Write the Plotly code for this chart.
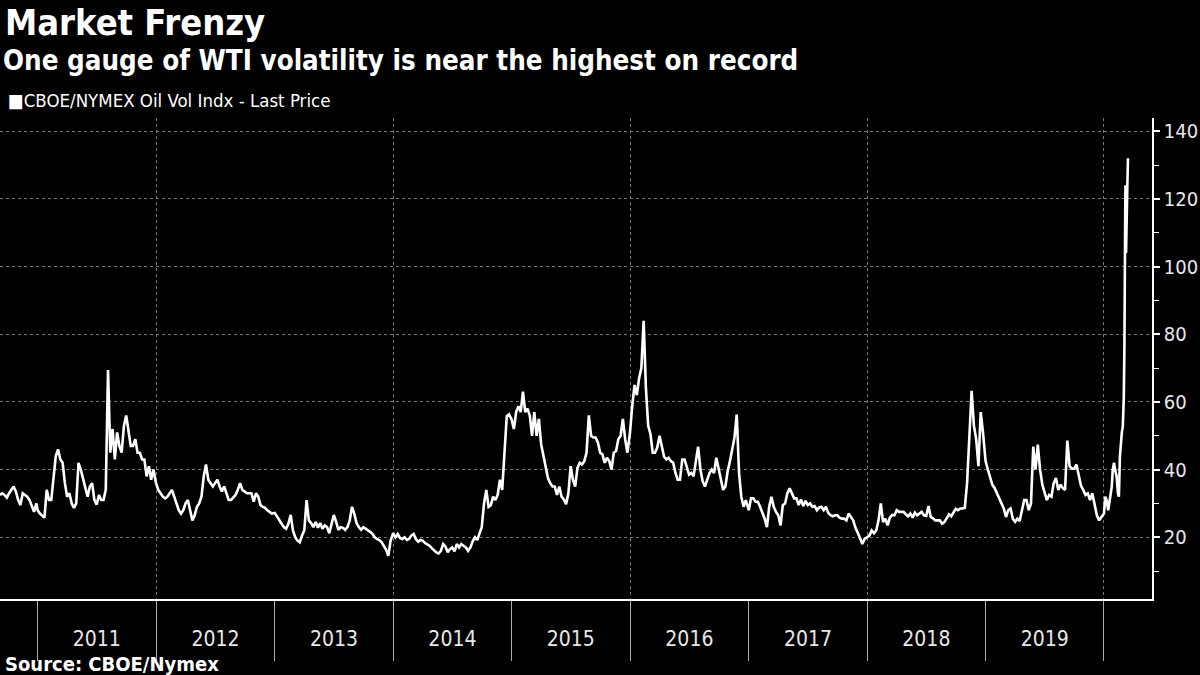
import pandas as pd
import plotly.graph_objects as go

# ---- data (CBOE/NYMEX Oil Vol Index, weekly readings estimated from the chart) ----
vals_2010 = [32.5, 33, 32.5, 31.7, 33, 34, 35, 33.5, 31, 29.5, 33, 32.5, 32, 31, 29, 27.5, 30]
vals_2011 = [28, 27, 26.5, 25.8, 34, 31, 31, 38, 44, 46, 43, 42, 36, 32, 33, 30, 28.7, 30, 42, 40,
             37.5, 35, 32, 35, 36, 31, 29.6, 32.5, 31, 31, 34, 69.4, 45, 52, 43, 51, 47, 45, 53, 56,
             52, 47, 47, 49, 45, 45, 43, 43, 38, 41, 37, 40]
vals_2012 = [36, 34, 33, 32, 31.5, 32, 33, 34, 32, 30, 28, 27, 28, 30, 31, 28, 25, 26.5, 29, 30,
             32, 38, 41.5, 37, 36, 35, 36, 37, 35, 33.5, 35, 33, 31, 31, 31.6, 32.5, 34, 36, 34, 33.4,
             33, 33, 33, 30.5, 33, 32, 29.5, 29, 28.7, 28, 27.5, 27]
vals_2013 = [27.2, 26, 25, 24, 23, 22.5, 24, 26.6, 22, 20, 19, 18.5, 20.5, 22, 31, 25, 24.2, 23, 24.5, 22.8,
             24.2, 22.5, 23.5, 23, 21.2, 24, 26.6, 24.6, 22.2, 23, 22.8, 22.2, 23, 25, 29, 27, 24.2, 23, 22.2, 23,
             22.6, 22.2, 21.6, 21, 20, 19.5, 19.2, 18.6, 17.3, 16.4, 14.5, 19]
vals_2014 = [21.2, 20, 21, 19.8, 19.5, 20, 19.2, 19.5, 20.5, 21, 19.5, 18.7, 19.2, 19, 18.3, 18, 17.5, 16.8, 16, 15.5,
             15.2, 16, 18, 17.3, 15.6, 16.5, 17, 15.8, 18, 17, 18, 17.5, 17, 16, 17, 18.8, 20, 19.2, 21, 23,
             30, 34, 29, 29.5, 32, 31, 32.5, 37, 34, 45, 55.7, 56.3]
vals_2015 = [54.8, 52, 57, 58.7, 57, 63, 57, 58, 56, 50, 57, 50, 55, 47.5, 43.8, 41, 37.5, 36, 35, 35,
             32.5, 35, 32, 31.2, 29.8, 33, 41, 37, 35, 40.5, 42, 41.5, 42.5, 45, 56, 50, 49.5, 49.5, 48, 45,
             44.5, 42, 43.5, 42.5, 40, 45, 45.5, 49, 50, 55, 49, 45]
vals_2016 = [51, 59, 65, 62, 67, 70, 84, 64, 53, 50.5, 45, 45, 46.5, 50, 46.5, 43.8, 43, 43.5, 42.5, 42,
             39, 37, 37, 43, 43, 40.5, 38.5, 39, 38, 42.5, 46.8, 40, 36.5, 35, 37, 39, 40, 39, 43.5, 40,
             36.6, 34, 35, 39.5, 42.5, 46, 49.5, 56.3, 39, 32, 29, 31]
vals_2017 = [28, 31.5, 31.5, 30.5, 30.5, 29, 27.5, 25.5, 23, 29, 32, 29, 27.5, 26.5, 23.5, 29.5, 30, 33, 34.5, 33,
             31.5, 31.5, 29.5, 31.2, 29.2, 30.8, 29.5, 30, 29, 29.2, 28, 28.8, 29, 28, 29, 27.2, 26.5, 26.2, 26.5, 26.5,
             25.8, 25.5, 25.5, 25, 27, 26, 25, 22.8, 21.4, 19.8, 18, 19.5]
vals_2018 = [20, 20.5, 22, 21.2, 22, 25, 30, 24.5, 25.5, 23.5, 25.8, 26.6, 26.5, 28, 27.5, 27.5, 27.5, 26.8, 26.2, 27,
             25.8, 27.3, 26.5, 27, 27.5, 26.5, 26.3, 29.2, 26, 25.6, 25, 25, 25, 24, 24.5, 25.6, 26.8, 26.2, 27.4, 28.4,
             28, 28.5, 28.5, 28.7, 36, 50.5, 63.3, 53, 49, 41, 57, 51]
vals_2019 = [42.5, 40, 38, 35.5, 34.5, 33, 31.5, 30, 28.5, 26, 28, 28.5, 25.5, 24.6, 25.5, 24.8, 28.5, 31, 31, 28,
             30, 46.8, 40, 47.4, 40, 35.5, 33.2, 31, 32.5, 32, 36, 37.5, 34, 35.5, 34.5, 34, 48.6, 41, 40.3, 40.3,
             41.5, 38, 35.3, 34, 32.5, 33, 31, 33, 29.5, 26.5, 25, 26]
days_2020 = [0, 4, 8, 13, 18, 24, 27, 31, 34, 39, 43, 46, 49, 52, 55, 58, 61, 63, 65, 66, 67, 68, 70, 72, 74]
vals_2020 = [27, 32, 31, 28, 31, 35, 40, 42, 40, 38, 33, 32, 43.8, 49, 51, 52.7, 61, 77, 103, 124, 123, 104, 123, 124, 132]

grid_dates = ["2012-01-01", "2014-01-01", "2016-01-01", "2018-01-01", "2020-01-01"]

# ---- assemble series ----
dates = list(pd.date_range("2010-09-07", periods=len(vals_2010), freq="7D"))
values = list(vals_2010)
for year, vals in [(2011, vals_2011), (2012, vals_2012), (2013, vals_2013), (2014, vals_2014),
                   (2015, vals_2015), (2016, vals_2016), (2017, vals_2017), (2018, vals_2018),
                   (2019, vals_2019)]:
    dates += list(pd.date_range(f"{year}-01-01", periods=len(vals), freq="7D"))
    values += vals
dates += [pd.Timestamp("2020-01-01") + pd.Timedelta(days=d) for d in days_2020]
values += vals_2020

# ---- geometry ----
W, H = 1200, 675
L, R, T, B = 0, 48, 118, 76
plot_w = W - L - R
plot_h = H - T - B


def py(px):
    return (H - B - px) / plot_h


def pxx(px):
    return (px - L) / plot_w


x_range = ["2010-09-07", "2020-05-28"]
TITLE_FONT = "DejaVu Sans Condensed, DejaVu Sans, sans-serif"
AXIS_FONT = "Liberation Sans Narrow, DejaVu Sans Condensed, sans-serif"

fig = go.Figure()
fig.add_trace(go.Scatter(x=dates, y=values, mode="lines",
                         line=dict(color="white", width=2.6),
                         showlegend=False, hoverinfo="skip"))
fig.add_trace(go.Scatter(x=[dates[0]], y=[None], xaxis="x2", mode="lines",
                         showlegend=False, hoverinfo="skip"))

fig.update_layout(
    template="none",
    width=W, height=H,
    margin=dict(l=L, r=R, t=T, b=B, pad=0),
    paper_bgcolor="black",
    plot_bgcolor="black",
    showlegend=False,
    xaxis=dict(
        type="date", range=x_range, fixedrange=True,
        tick0="2011-01-01", dtick="M12", ticklabelmode="period", tickformat="%Y",
        ticks="outside", ticklen=60, tickwidth=1, tickcolor="#aaaaaa",
        showline=True, linecolor="white", linewidth=2,
        showgrid=False, zeroline=False, automargin=False,
        tickfont=dict(family=AXIS_FONT, size=21, color="#e8e8e8"),
        ticklabelstandoff=-40,
    ),
    xaxis2=dict(
        type="date", range=x_range, overlaying="x", anchor="y", side="bottom",
        tickmode="array", tickvals=grid_dates, showticklabels=False, ticks="",
        showgrid=True, gridcolor="#777777", griddash="dot", gridwidth=1,
        showline=False, zeroline=False, automargin=False, fixedrange=True,
    ),
    yaxis=dict(
        range=[1.76, 143.9], side="right", fixedrange=True,
        tick0=0, dtick=20, ticks="outside", ticklen=6, tickwidth=1.5, tickcolor="white",
        showline=True, linecolor="white", linewidth=1.5,
        showgrid=True, gridcolor="#777777", griddash="dot", gridwidth=1,
        zeroline=False, automargin=False,
        tickfont=dict(family=AXIS_FONT, size=20, color="#e8e8e8"),
        minor=dict(tick0=0, dtick=10, ticks="outside", ticklen=5, tickwidth=1,
                   tickcolor="white", showgrid=False),
    ),
    annotations=[
        dict(text="<b>Market Frenzy</b>", x=pxx(3), y=py(23), xref="paper", yref="paper",
             xanchor="left", yanchor="middle", showarrow=False,
             font=dict(family=TITLE_FONT, size=36, color="white")),
        dict(text="<b>One gauge of WTI volatility is near the highest on record</b>",
             x=pxx(1), y=py(60), xref="paper", yref="paper",
             xanchor="left", yanchor="middle", showarrow=False,
             font=dict(family=TITLE_FONT, size=27.5, color="white")),
        dict(text="■CBOE/NYMEX Oil Vol Indx - Last Price",
             x=pxx(6), y=py(100), xref="paper", yref="paper",
             xanchor="left", yanchor="middle", showarrow=False,
             font=dict(family=TITLE_FONT, size=18.5, color="white")),
        dict(text="<b>Source: CBOE/Nymex</b>", x=pxx(3), y=py(664), xref="paper", yref="paper",
             xanchor="left", yanchor="middle", showarrow=False,
             font=dict(family=TITLE_FONT, size=20, color="white")),
    ],
)

fig.write_html("out.html")
